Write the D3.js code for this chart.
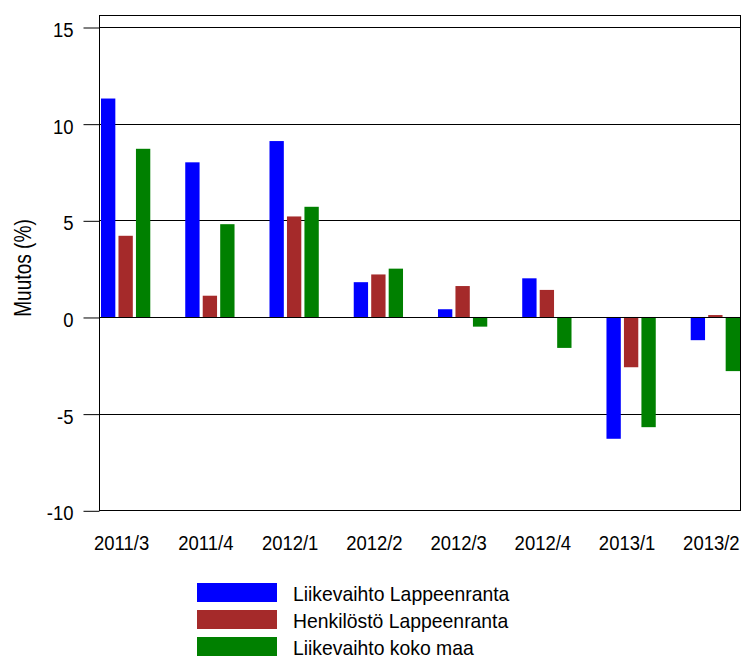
<!DOCTYPE html>
<html>
<head>
<meta charset="utf-8">
<script src="https://cdn.jsdelivr.net/npm/d3@7/dist/d3.min.js"></script>
<style>
  html, body { margin: 0; padding: 0; background: #fff; }
  svg { display: block; }
  text { font-family: "Liberation Sans", Arial, sans-serif; fill: #000; }
</style>
</head>
<body>
<svg id="chart" width="742" height="657"></svg>
<script>
const categories = ["2011/3", "2011/4", "2012/1", "2012/2", "2012/3", "2012/4", "2013/1", "2013/2"];
const seriesNames = ["Liikevaihto Lappeenranta", "Henkilöstö Lappeenranta", "Liikevaihto koko maa"];
const liikevaihtoLpr = [11.3, 8.0, 9.1, 1.8, 0.4, 2.0, -6.3, -1.2];
const henkilostoLpr  = [4.2, 1.1, 5.2, 2.2, 1.6, 1.4, -2.6, 0.1];
const liikevaihtoMaa = [8.7, 4.8, 5.7, 2.5, -0.5, -1.6, -5.7, -2.8];
const yTicks = [-10, -5, 0, 5, 10, 15];
const colors = ["#0000ff", "#a52a2a", "#008000"];
const yTitle = "Muutos (%)";

const seriesValues = [liikevaihtoLpr, henkilostoLpr, liikevaihtoMaa];

const svg = d3.select("#chart");
const frame = { left: 99, right: 741, top: 15, bottom: 510 };

const y = d3.scaleLinear().domain([-10, 15]).range([510.3, 27]);
const x = d3.scaleBand().domain(categories).range([101, 740]).paddingInner(0.415).paddingOuter(0);
const xs = d3.scaleBand().domain(d3.range(seriesNames.length)).range([0, x.bandwidth()]).paddingInner(0.18).paddingOuter(0);

// gridlines
svg.append("g").selectAll("line").data(yTicks).join("line")
  .attr("x1", frame.left).attr("x2", frame.right)
  .attr("y1", d => Math.round(y(d)) + 0.5).attr("y2", d => Math.round(y(d)) + 0.5)
  .attr("stroke", "#000").attr("stroke-width", 1);

// bars
const groups = svg.append("g").selectAll("g").data(categories).join("g")
  .attr("transform", d => `translate(${x(d)},0)`);
groups.selectAll("rect")
  .data((d, i) => seriesValues.map((vals, s) => ({ s, v: vals[i] })))
  .join("rect")
  .attr("x", d => xs(d.s))
  .attr("width", xs.bandwidth())
  .attr("y", d => Math.min(y(d.v), y(0)))
  .attr("height", d => Math.abs(y(d.v) - y(0)))
  .attr("fill", d => colors[d.s]);

// zero line on top
svg.append("line")
  .attr("x1", frame.left).attr("x2", frame.right)
  .attr("y1", Math.round(y(0)) + 0.5).attr("y2", Math.round(y(0)) + 0.5)
  .attr("stroke", "#000");

// frame
svg.append("rect")
  .attr("x", frame.left + 0.5).attr("y", frame.top + 0.5)
  .attr("width", frame.right - frame.left - 1).attr("height", frame.bottom - frame.top)
  .attr("fill", "none").attr("stroke", "#000").attr("stroke-width", 1);

// y axis
const yAxis = svg.append("g").attr("transform", `translate(${frame.left + 0.5},0)`)
  .call(d3.axisLeft(y).tickValues(yTicks).tickSize(16).tickFormat(d => String(d)));
yAxis.select(".domain").remove();
yAxis.selectAll(".tick line").attr("stroke", "#000").attr("transform", "translate(0,0.5)");
yAxis.selectAll(".tick text")
  .attr("x", null).attr("dy", null)
  .attr("transform", "translate(-26,9.5) scale(0.88,1)")
  .attr("text-anchor", "end")
  .style("font-size", "21px").style("font-family", "'Liberation Sans', Arial, sans-serif").attr("fill", "#000");

// x axis
const xAxis = svg.append("g").attr("transform", `translate(0,${frame.bottom})`)
  .call(d3.axisBottom(x).tickSize(0));
xAxis.select(".domain").remove();
xAxis.selectAll(".tick text")
  .attr("y", null).attr("dy", null)
  .attr("transform", "translate(-4,40) scale(0.88,1)")
  .attr("text-anchor", "middle")
  .style("font-size", "21px").style("font-family", "'Liberation Sans', Arial, sans-serif").attr("fill", "#000");

// y title
svg.append("text")
  .attr("transform", "translate(31,268) rotate(-90) scale(0.83,1)")
  .attr("text-anchor", "middle")
  .style("font-size", "23px")
  .text(yTitle);

// legend
const legend = svg.append("g");
const lg = legend.selectAll("g").data(seriesNames).join("g")
  .attr("transform", (d, i) => `translate(197,${583 + i * 27})`);
lg.append("rect").attr("width", 80).attr("height", 19).attr("fill", (d, i) => colors[i]);
lg.append("text")
  .attr("transform", "translate(96,17.5) scale(0.95,1)")
  .style("font-size", "20.4px")
  .text(d => d);
</script>
</body>
</html>
